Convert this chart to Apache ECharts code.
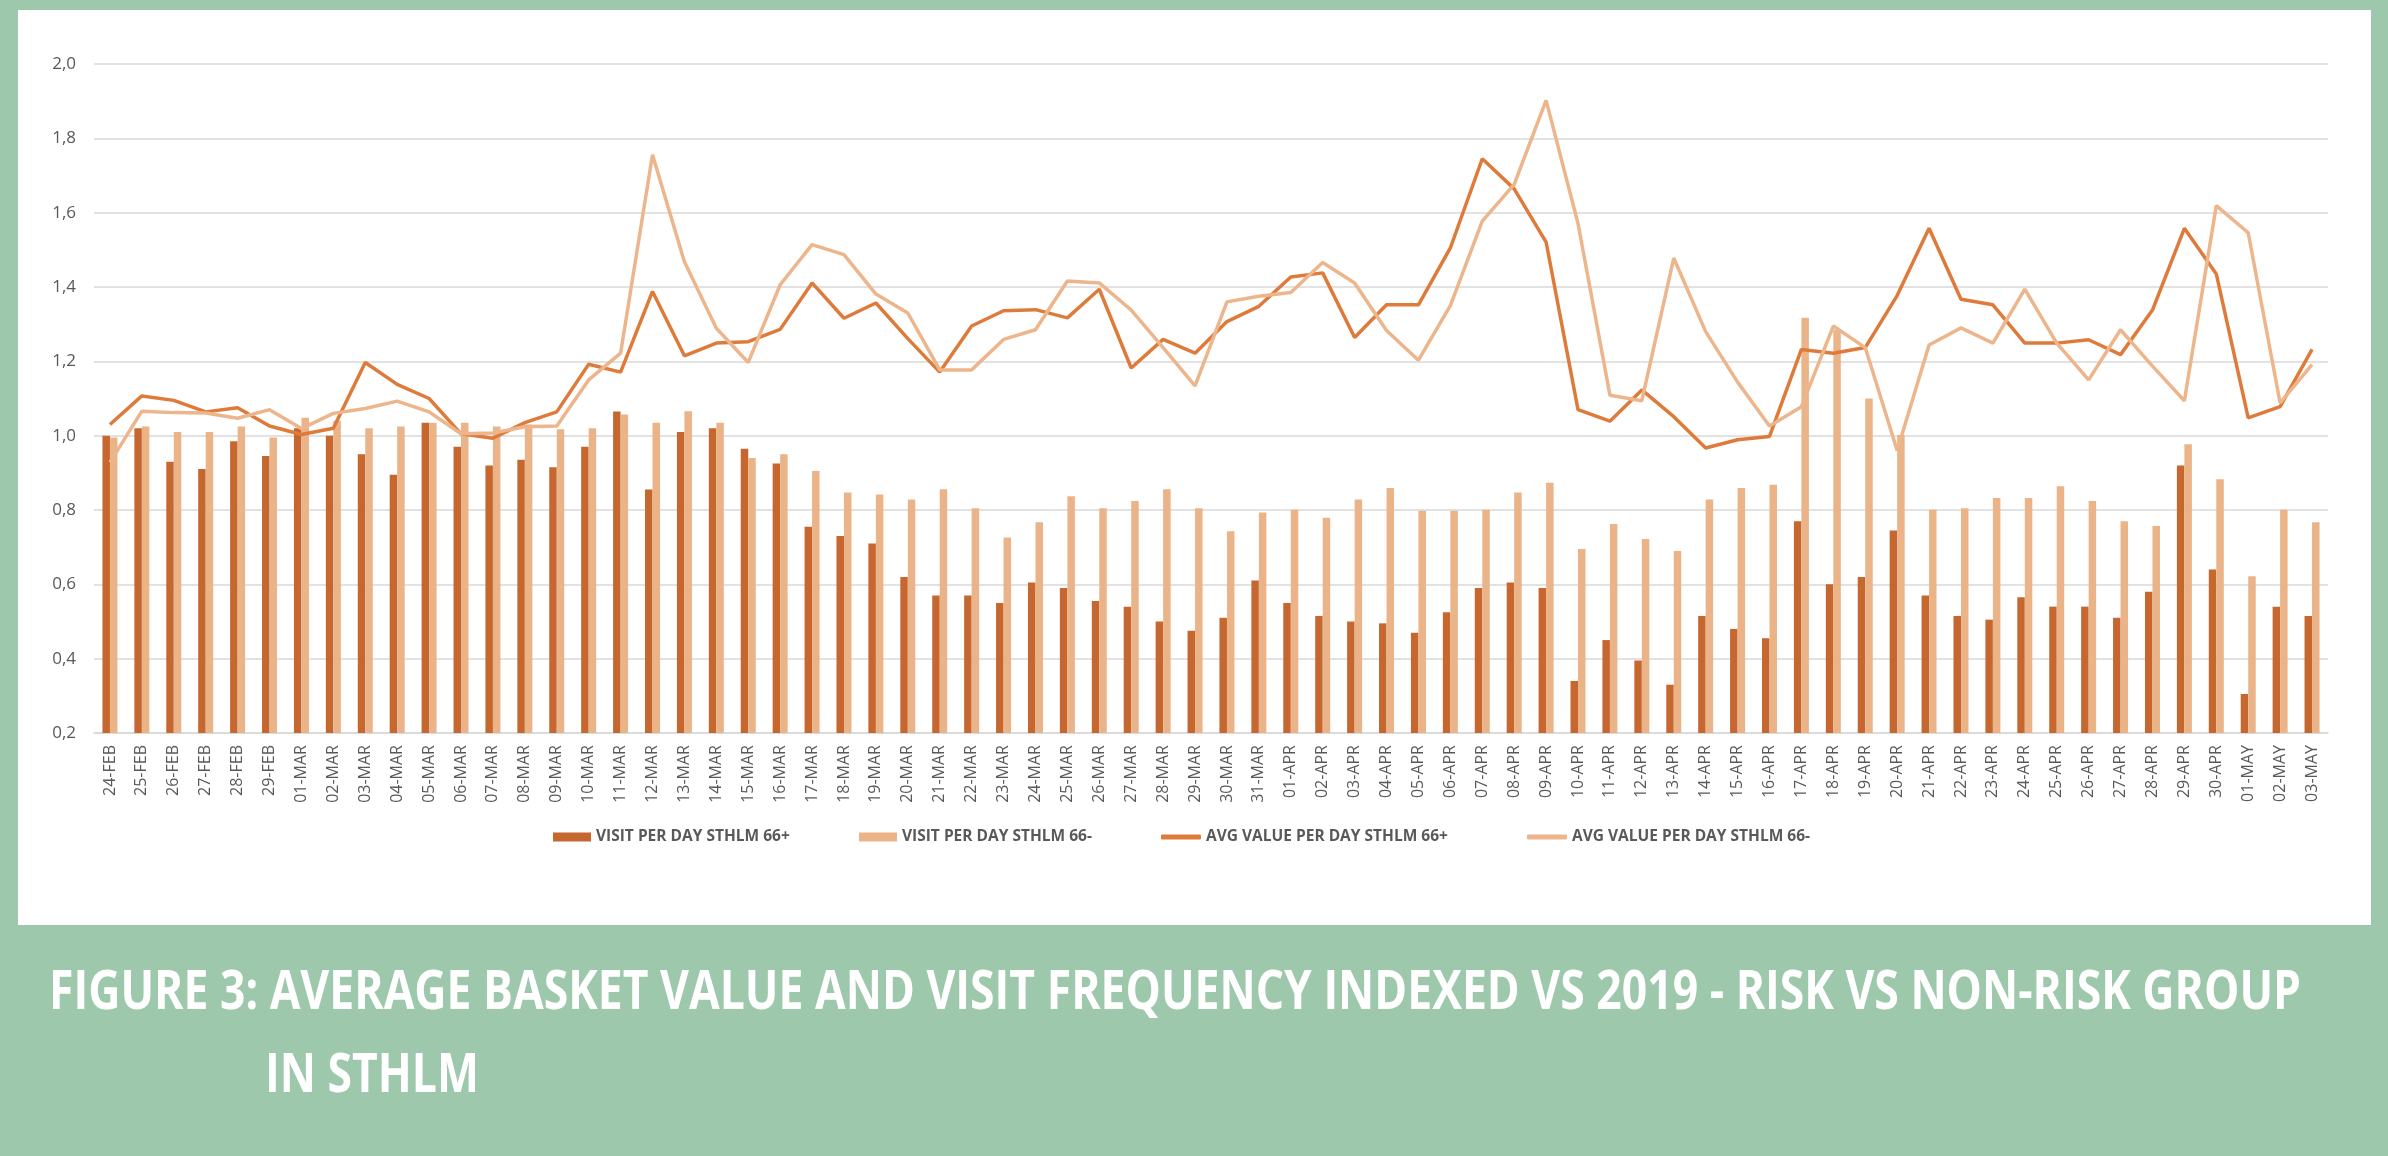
<!DOCTYPE html>
<html>
<head>
<meta charset="utf-8">
<script src="https://cdn.jsdelivr.net/npm/echarts@6/dist/echarts.min.js"></script>
<style>
  html, body { margin: 0; padding: 0; background: #9DC8AC; }
  #chart { width: 2388px; height: 1156px; }
</style>
</head>
<body>
<div id="chart"></div>
<script>
// ---------- DATA ----------
const categories = [
  '24-FEB','25-FEB','26-FEB','27-FEB','28-FEB','29-FEB',
  '01-MAR','02-MAR','03-MAR','04-MAR','05-MAR','06-MAR','07-MAR','08-MAR','09-MAR','10-MAR',
  '11-MAR','12-MAR','13-MAR','14-MAR','15-MAR','16-MAR','17-MAR','18-MAR','19-MAR','20-MAR',
  '21-MAR','22-MAR','23-MAR','24-MAR','25-MAR','26-MAR','27-MAR','28-MAR','29-MAR','30-MAR','31-MAR',
  '01-APR','02-APR','03-APR','04-APR','05-APR','06-APR','07-APR','08-APR','09-APR','10-APR',
  '11-APR','12-APR','13-APR','14-APR','15-APR','16-APR','17-APR','18-APR','19-APR','20-APR',
  '21-APR','22-APR','23-APR','24-APR','25-APR','26-APR','27-APR','28-APR','29-APR','30-APR',
  '01-MAY','02-MAY','03-MAY'
];

const visitRisk = [
  1.00, 1.02, 0.93, 0.91, 0.985, 0.945,
  1.02, 1.00, 0.95, 0.895, 1.035, 0.97, 0.92, 0.935, 0.915, 0.97,
  1.065, 0.855, 1.01, 1.02, 0.965, 0.925, 0.755, 0.73, 0.71, 0.62,
  0.57, 0.57, 0.55, 0.605, 0.59, 0.555, 0.54, 0.50, 0.475, 0.51, 0.61,
  0.55, 0.515, 0.50, 0.495, 0.47, 0.525, 0.59, 0.605, 0.59, 0.34,
  0.45, 0.395, 0.33, 0.515, 0.48, 0.455, 0.77, 0.60, 0.62, 0.745,
  0.57, 0.515, 0.505, 0.565, 0.54, 0.54, 0.51, 0.58, 0.92, 0.64,
  0.305, 0.54, 0.515
];

const visitNonRisk = [
  0.995, 1.025, 1.01, 1.01, 1.025, 0.995,
  1.048, 1.04, 1.02, 1.025, 1.035, 1.035, 1.025, 1.03, 1.017, 1.02,
  1.057, 1.035, 1.066, 1.035, 0.94, 0.95, 0.905, 0.847, 0.842, 0.828,
  0.856, 0.805, 0.726, 0.767, 0.837, 0.805, 0.824, 0.856, 0.805, 0.743, 0.793,
  0.801, 0.779, 0.828, 0.859, 0.798, 0.798, 0.801, 0.847, 0.873, 0.695,
  0.762, 0.722, 0.69, 0.828, 0.859, 0.868, 1.317, 1.285, 1.10, 1.002,
  0.801, 0.805, 0.832, 0.832, 0.864, 0.824, 0.77, 0.757, 0.977, 0.883,
  0.622, 0.801, 0.767
];

const avgRisk = [
  1.03, 1.107, 1.095, 1.064, 1.075, 1.026,
  1.003, 1.02, 1.197, 1.138, 1.10, 1.005, 0.993, 1.035, 1.064, 1.192,
  1.171, 1.388, 1.215, 1.249, 1.253, 1.286, 1.411, 1.316, 1.357, 1.261,
  1.171, 1.295, 1.336, 1.339, 1.317, 1.394, 1.182, 1.259, 1.222, 1.307, 1.348,
  1.427, 1.438, 1.264, 1.352, 1.352, 1.505, 1.745, 1.664, 1.521, 1.07,
  1.039, 1.123, 1.051, 0.967, 0.989, 0.998, 1.232, 1.222, 1.237, 1.377,
  1.558, 1.367, 1.352, 1.249, 1.249, 1.258, 1.218, 1.338, 1.558, 1.435,
  1.048, 1.078, 1.232
];

const avgNonRisk = [
  0.928, 1.066, 1.062, 1.061, 1.047, 1.07,
  1.019, 1.06, 1.073, 1.093, 1.064, 1.005, 1.007, 1.024, 1.026, 1.15,
  1.222, 1.756, 1.468, 1.289, 1.197, 1.406, 1.514, 1.487, 1.381, 1.33,
  1.177, 1.177, 1.259, 1.285, 1.416, 1.411, 1.338, 1.237, 1.134, 1.36, 1.375,
  1.385, 1.466, 1.411, 1.283, 1.203, 1.35, 1.577, 1.676, 1.902, 1.571,
  1.109, 1.094, 1.478, 1.28, 1.144, 1.026, 1.078, 1.295, 1.237, 0.96,
  1.244, 1.29, 1.249, 1.394, 1.249, 1.15, 1.285, 1.187, 1.094, 1.619,
  1.546, 1.088, 1.191
];

const seriesNames = [
  'VISIT PER DAY STHLM 66+',
  'VISIT PER DAY STHLM 66-',
  'AVG VALUE PER DAY STHLM 66+',
  'AVG VALUE PER DAY STHLM 66-'
];

const yMin = 0.2, yMax = 2.0, yStep = 0.2;

const titleLine1 = 'FIGURE 3: AVERAGE BASKET VALUE AND VISIT FREQUENCY INDEXED VS 2019 - RISK VS NON-RISK GROUP';
const titleLine2 = 'IN STHLM';

// ---------- STYLE ----------
const C_DARK_BAR = '#C5672F';
const C_LIGHT_BAR = '#EBB388';
const C_DARK_LINE = '#DE7B3B';
const C_LIGHT_LINE = '#EDB58B';
const TXT = '#595959';
const FONT = '"Open Sans", "DejaVu Sans", sans-serif';
const TITLE_FONT = 'bold 53px "Open Sans", "DejaVu Sans", sans-serif';

// measure title to condense it into the reference width
const mctx = document.createElement('canvas').getContext('2d');
mctx.font = TITLE_FONT;
const titleScale = 2252 / mctx.measureText(titleLine1).width;

const chart = echarts.init(document.getElementById('chart'), null, { renderer: 'canvas' });

function legendAt(name, left, isLine) {
  return {
    data: [name],
    left: left,
    top: 829,
    padding: 0,
    itemWidth: isLine ? 40 : 38,
    itemHeight: isLine ? 5 : 9,
    icon: isLine ? 'roundRect' : 'rect',
    selectedMode: false,
    textStyle: { color: TXT, fontSize: 15.5, fontWeight: 'bold', fontFamily: FONT }
  };
}

const option = {
  animation: false,
  backgroundColor: '#9DC8AC',
  graphic: [
    { type: 'rect', z: -100, shape: { x: 18, y: 10, width: 2353, height: 915 }, style: { fill: '#FFFFFF' }, silent: true },
    { type: 'text', x: 49, y: 994, scaleX: titleScale, style: { text: titleLine1, font: TITLE_FONT, fill: '#FFFFFF', verticalAlign: 'middle' } },
    { type: 'text', x: 265, y: 1077, scaleX: titleScale, style: { text: titleLine2, font: TITLE_FONT, fill: '#FFFFFF', verticalAlign: 'middle' } }
  ],
  legend: [
    legendAt(seriesNames[0], 553, false),
    legendAt(seriesNames[1], 859, false),
    legendAt(seriesNames[2], 1161, true),
    legendAt(seriesNames[3], 1527, true)
  ],
  grid: { left: 94, right: 60, top: 64, bottom: 423, containLabel: false },
  xAxis: {
    type: 'category',
    data: categories,
    boundaryGap: true,
    axisLine: { show: true, lineStyle: { color: '#D9D9D9', width: 1.5 } },
    axisTick: { show: false },
    axisLabel: { rotate: 90, interval: 0, margin: 12, color: TXT, fontSize: 16, fontFamily: FONT }
  },
  yAxis: {
    type: 'value',
    min: yMin, max: yMax, interval: yStep,
    axisLine: { show: false },
    axisTick: { show: false },
    splitLine: { lineStyle: { color: '#D9D9D9', width: 1.5 } },
    axisLabel: {
      margin: 18, color: TXT, fontSize: 17, fontFamily: FONT,
      formatter: v => v.toFixed(1).replace('.', ',')
    }
  },
  series: [
    { name: seriesNames[0], type: 'bar', data: visitRisk, barWidth: 7.5, barGap: '0%', itemStyle: { color: C_DARK_BAR }, z: 2 },
    { name: seriesNames[1], type: 'bar', data: visitNonRisk, barWidth: 7.5, barGap: '0%', itemStyle: { color: C_LIGHT_BAR }, z: 2 },
    { name: seriesNames[2], type: 'line', data: avgRisk, symbol: 'none', lineStyle: { color: C_DARK_LINE, width: 3.5 }, itemStyle: { color: C_DARK_LINE }, z: 4 },
    { name: seriesNames[3], type: 'line', data: avgNonRisk, symbol: 'none', lineStyle: { color: C_LIGHT_LINE, width: 3.5 }, itemStyle: { color: C_LIGHT_LINE }, z: 5 }
  ]
};

chart.setOption(option);
</script>
</body>
</html>
